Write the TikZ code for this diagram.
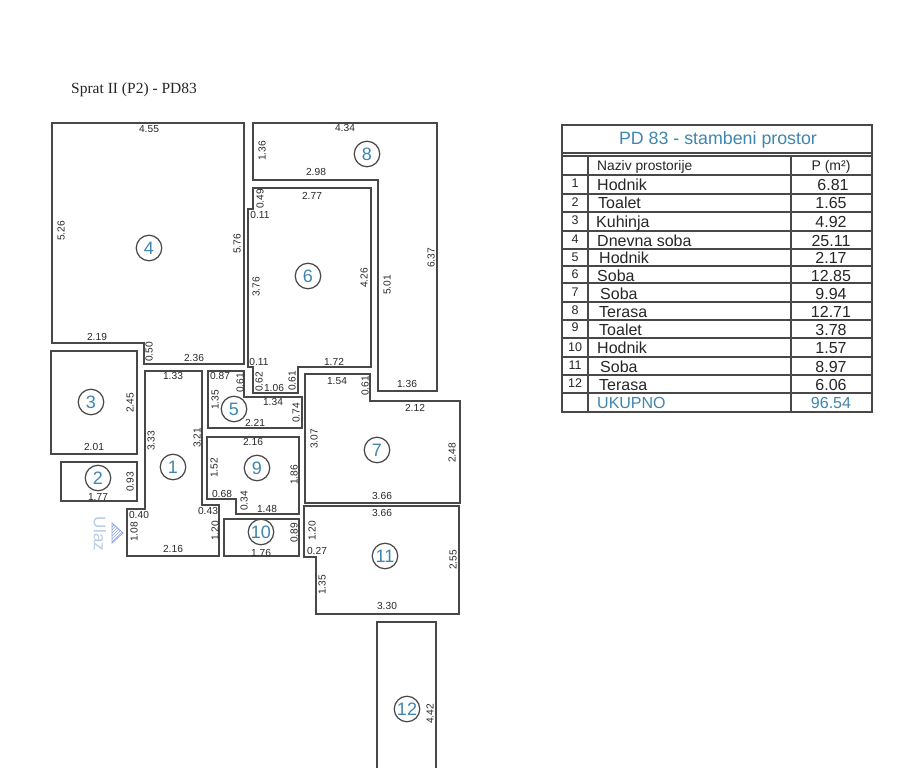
\documentclass[tikz,border=0pt]{standalone}
\usepackage{fontspec}
\setmainfont{Liberation Sans}
\newfontfamily\titleserif{Liberation Serif}
\usetikzlibrary{patterns}
\definecolor{wallc}{HTML}{484848}
\definecolor{inkblue}{HTML}{3F86AE}
\definecolor{paleblue}{HTML}{B4CDE4}
\definecolor{dimc}{HTML}{2A2A2A}
\tikzset{
  wall/.style={draw=wallc,line width=1.4pt,line join=miter},
  tabline/.style={draw=wallc,line width=1.3pt},
  dimlabel/.style={inner sep=0pt,text=dimc,font=\fontsize{10.2}{10.2}\selectfont},
  roomno/.style={circle,draw=wallc,line width=1.2pt,minimum size=25.5pt,inner sep=0pt,text=inkblue,font=\fontsize{18}{18}\selectfont},
  rowname/.style={anchor=base west,inner sep=0pt,text=black!85,font=\fontsize{16}{16}\selectfont},
  rowval/.style={anchor=base,inner sep=0pt,text=black!85,font=\fontsize{16}{16}\selectfont},
  rowno/.style={anchor=base,inner sep=0pt,text=black!85,font=\fontsize{12.5}{12.5}\selectfont},
}
\begin{document}
\begin{tikzpicture}[x=1pt,y=-1pt]
\fill[white] (0,0) rectangle (914,768);
\useasboundingbox (0,0) rectangle (914,768);
\node[anchor=base west,inner sep=0pt,text=black!85,font=\titleserif\fontsize{15.5}{15.5}\selectfont] (title) at (71,94) {Sprat II (P2) - PD83};
% rooms
\draw[wall] (52,123) -- (244,123) -- (244,364) -- (144,364) -- (144,343) -- (52,343) -- cycle;
\draw[wall] (51,351) -- (137,351) -- (137,454) -- (51,454) -- cycle;
\draw[wall] (61,462) -- (137,462) -- (137,501) -- (61,501) -- cycle;
\draw[wall] (145,371) -- (202,371) -- (202,505) -- (219,505) -- (219,556) -- (127,556) -- (127,509) -- (145,509) -- cycle;
\draw[wall] (208,371) -- (244,371) -- (244,397) -- (302,397) -- (302,428) -- (208,428) -- cycle;
\draw[wall] (207,437) -- (299,437) -- (299,514) -- (236,514) -- (236,499) -- (207,499) -- cycle;
\draw[wall] (224,519) -- (299,519) -- (299,556) -- (224,556) -- cycle;
\draw[wall] (253,188) -- (371,188) -- (371,367) -- (298,367) -- (298,393) -- (253,393) -- (253,367) -- (248,367) -- (248,209) -- (253,209) -- cycle;
\draw[wall] (253,123) -- (437,123) -- (437,391) -- (378,391) -- (378,180) -- (253,180) -- cycle;
\draw[wall] (305,374) -- (370,374) -- (370,401) -- (460,401) -- (460,503) -- (305,503) -- cycle;
\draw[wall] (304,506) -- (459,506) -- (459,614) -- (316,614) -- (316,557) -- (304,557) -- cycle;
\draw[wall] (377,768) -- (377,622) -- (436,622) -- (436,768);
% room numbers
\foreach \n/\cx/\cy in {1/173/467,2/98/478,3/91/402,4/149/248,5/234/409,6/308/276,7/377/450,8/367/154,9/257/468,10/261/532,11/385/556,12/407/709}
  \node[roomno] (room\n) at (\cx,\cy) {\n};
% horizontal dimensions
\foreach \cx/\cy/\t in {149/129/4.55,97/337/2.19,194/358/2.36,94/447/2.01,98/497/1.77,173/376/1.33,139/515/0.40,208/511/0.43,173/549/2.16,220/376/0.87,273/402/1.34,255/423/2.21,253/442/2.16,222/494/0.68,267/509/1.48,261/553/1.76,312/196/2.77,260/215/0.11,259/362/0.11,334/362/1.72,274/388/1.06,345/128/4.34,316/172/2.98,407/384/1.36,337/381/1.54,415/408/2.12,382/496/3.66,382/513/3.66,317/551/0.27,387/606/3.30}
  \node[dimlabel] (dh-\cx-\cy) at (\cx,\cy) {\t};
% vertical dimensions
\foreach \cx/\cy/\t in {61/231/5.26,237/244/5.76,149/352/0.50,130/403/2.45,130/482/0.93,151/441/3.33,197/438/3.21,134/532/1.08,215/531/1.20,240/383/0.61,215/400/1.35,296/413/0.74,214/468/1.52,294/475/1.86,244/501/0.34,294/533/0.89,260/199/0.49,256/287/3.76,364/278/4.26,259/382/0.62,292/381/0.61,262/151/1.36,387/285/5.01,431/258/6.37,365/386/0.61,314/439/3.07,452/453/2.48,312/531/1.20,322/585/1.35,453/560/2.55,430/714/4.42}
  \node[dimlabel,rotate=90] (dv-\cx-\cy) at (\cx,\cy) {\t};
% entrance
\node[rotate=-90,inner sep=0pt,text=paleblue,font=\fontsize{17}{17}\selectfont] (ulaz) at (100,534) {Ulaz};
\draw[paleblue!80!blue,line width=0.8pt,pattern=north east lines,pattern color=paleblue!80!blue] (112,523) -- (123,533) -- (112,543) -- cycle;
% table
\draw[tabline] (562,125) rectangle (872,412);
\draw[tabline,line width=1.7pt] (562,153) -- (872,153);
\draw[tabline] (562,156) -- (872,156);
\foreach \ry in {175,194,212,231,249,266,283,302,320,338,357,375,393}
  \draw[tabline] (562,\ry) -- (872,\ry);
\draw[tabline] (588,156) -- (588,412);
\draw[tabline] (791,156) -- (791,412);
\node[inner sep=0pt,text=inkblue,font=\fontsize{17.8}{17.8}\selectfont] (tabtitle) at (718,139.5) {PD 83 - stambeni prostor};
\node[anchor=base west,inner sep=0pt,text=black!85,font=\fontsize{13.8}{13.8}\selectfont] (colname) at (597,170) {Naziv prostorije};
\node[anchor=base,inner sep=0pt,text=black!85,font=\fontsize{14}{14}\selectfont] (colp) at (831,171) {P (m²)};
\foreach \n/\ny/\nx/\nm/\vx/\vy/\v in {1/187/597/Hodnik/833/190/6.81,2/206/598/Toalet/831/208/1.65,3/224/596/Kuhinja/831/227/4.92,4/243/597/Dnevna soba/831/246/25.11,5/261/599/Hodnik/831/263/2.17,6/278/597/Soba/831/281/12.85,7/296/600/Soba/831/299/9.94,8/314/599/Terasa/831/317/12.71,9/331/599/Toalet/831/335/3.78,10/351/597/Hodnik/831/353/1.57,11/369/600/Soba/831/372/8.97,12/387/599/Terasa/831/390/6.06}{
  \node[rowno] (no\n) at (575,\ny) {\n};
  \node[rowname] (nm\n) at (\nx,\vy) {\nm};
  \node[rowval] (val\n) at (\vx,\vy) {\v};
}
\node[rowname,text=inkblue] (tot) at (597,408) {UKUPNO};
\node[rowval,text=inkblue] (totv) at (831,408) {96.54};
\end{tikzpicture}
\end{document}
